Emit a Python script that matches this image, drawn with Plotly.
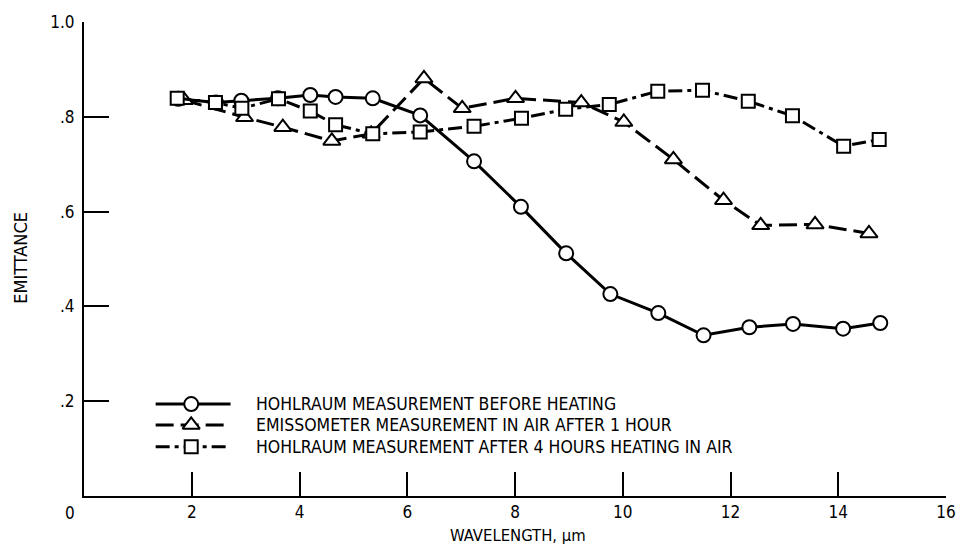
import plotly.graph_objects as go

# --- data (wavelength in micrometres, emittance) ---
circ_x = [1.75, 2.45, 2.92, 3.60, 4.20, 4.67, 5.36, 6.24, 7.24, 8.11, 8.95, 9.77, 10.66, 11.50, 12.35, 13.16, 14.09, 14.78]
circ_y = [0.838, 0.830, 0.834, 0.839, 0.846, 0.842, 0.839, 0.803, 0.706, 0.610, 0.512, 0.426, 0.386, 0.339, 0.356, 0.363, 0.353, 0.365]

tri_x = [1.86, 2.98, 3.69, 4.60, 5.33, 6.31, 7.02, 8.01, 9.23, 10.02, 10.94, 11.87, 12.56, 13.57, 14.57]
tri_y = [0.835, 0.799, 0.778, 0.749, 0.764, 0.881, 0.818, 0.839, 0.830, 0.789, 0.710, 0.624, 0.571, 0.573, 0.554]

sq_x = [1.73, 2.44, 2.93, 3.61, 4.20, 4.67, 5.36, 6.24, 7.24, 8.12, 8.94, 9.75, 10.65, 11.48, 12.33, 13.15, 14.10, 14.76]
sq_y = [0.839, 0.830, 0.818, 0.838, 0.812, 0.783, 0.764, 0.768, 0.780, 0.797, 0.816, 0.826, 0.854, 0.856, 0.833, 0.802, 0.738, 0.752]

series_names = [
    "HOHLRAUM MEASUREMENT BEFORE HEATING",
    "EMISSOMETER MEASUREMENT IN AIR AFTER 1 HOUR",
    "HOHLRAUM MEASUREMENT AFTER 4 HOURS HEATING IN AIR",
]

x_ticks = [2, 4, 6, 8, 10, 12, 14, 16]
y_ticks = [0.2, 0.4, 0.6, 0.8, 1.0]
y_ticktext = [".2", ".4", ".6", ".8", "1.0"]

# legend key layout (data coords)
leg_x0, leg_xm, leg_x1 = 1.33, 1.99, 2.72
leg_text_x = 3.15
leg_rows = [0.194, 0.150, 0.104]

FONT = "DejaVu Sans Condensed, Liberation Sans Narrow, DejaVu Sans, sans-serif"

styles = [
    dict(symbol="circle", dash="solid", size=14),
    dict(symbol="triangle-up", dash="18px,7px", size=15),
    dict(symbol="square", dash="14px,5px,4px,5px", size=13),
]
data = [(circ_x, circ_y), (tri_x, tri_y), (sq_x, sq_y)]

fig = go.Figure()
for (xs, ys), st, name in zip(data, styles, series_names):
    fig.add_trace(go.Scatter(
        x=xs, y=ys, mode="lines+markers", name=name, showlegend=False,
        line=dict(color="black", width=3, dash=st["dash"]),
        marker=dict(symbol=st["symbol"], size=st["size"], color="white",
                    line=dict(color="black", width=2)),
        cliponaxis=False,
    ))

# custom legend keys
for row, st, name in zip(leg_rows, styles, series_names):
    fig.add_trace(go.Scatter(
        x=[leg_x0, leg_x1], y=[row, row], mode="lines", showlegend=False,
        line=dict(color="black", width=3, dash=st["dash"]), hoverinfo="skip"))
    fig.add_trace(go.Scatter(
        x=[leg_xm], y=[row], mode="markers", showlegend=False,
        marker=dict(symbol=st["symbol"], size=st["size"], color="white",
                    line=dict(color="black", width=2)), hoverinfo="skip"))
    fig.add_annotation(x=leg_text_x, y=row, xref="x", yref="y", text=name,
                       showarrow=False, xanchor="left", yanchor="middle",
                       font=dict(family=FONT, size=17.5, color="black"))

fig.update_xaxes(
    range=[0, 16], tickmode="array", tickvals=x_ticks,
    ticks="inside", ticklen=24, tickwidth=2, tickcolor="black",
    showline=True, linecolor="black", linewidth=2, showgrid=False, zeroline=False,
    tickfont=dict(family=FONT, size=17, color="black"), ticklabeloverflow="allow",
)
fig.update_yaxes(
    range=[0, 1.0], tickmode="array", tickvals=y_ticks, ticktext=y_ticktext,
    ticks="inside", ticklen=25, tickwidth=2, tickcolor="black",
    showline=True, linecolor="black", linewidth=2, showgrid=False, zeroline=False,
    tickfont=dict(family=FONT, size=17, color="black"), ticklabeloverflow="allow",
    ticklabelstandoff=4,
)

# origin label and axis titles
fig.add_annotation(x=0, y=0, xref="x", yref="y", text="0", showarrow=False,
                   xshift=-14, yshift=-17, font=dict(family=FONT, size=17, color="black"))
fig.add_annotation(x=0.503, y=-0.0835, xref="paper", yref="paper", text="WAVELENGTH, \u03bcm",
                   showarrow=False, xanchor="center", yanchor="middle",
                   font=dict(family=FONT, size=16.5, color="black"))
fig.add_annotation(x=-0.074, y=0.503, xref="paper", yref="paper", text="EMITTANCE",
                   showarrow=False, textangle=-90, xanchor="center", yanchor="middle",
                   font=dict(family=FONT, size=18, color="black"))

fig.update_layout(
    width=968, height=551,
    margin=dict(l=84, r=19, t=17, b=55),
    plot_bgcolor="white", paper_bgcolor="white",
)
# remove the page's default body margin (and any scrollbars) so the figure
# fills the 968x551 window exactly
fig.write_html(
    "out.html",
    config={"displayModeBar": False},
    post_script="document.body.style.margin='0';document.body.style.overflow='hidden';"
                "document.documentElement.style.overflow='hidden';",
)
